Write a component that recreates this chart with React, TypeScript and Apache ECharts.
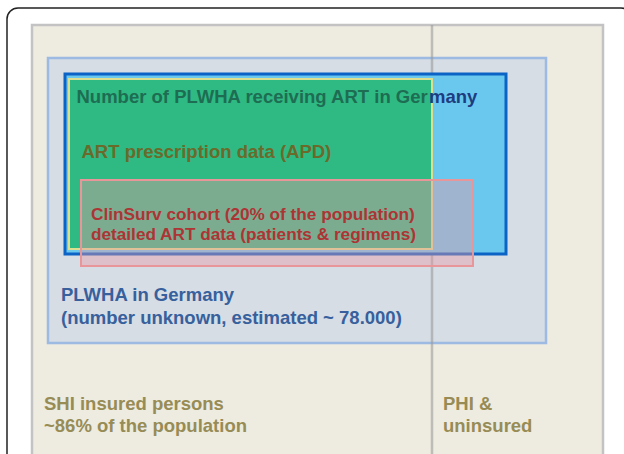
import React, { useEffect, useRef } from "react";
import * as echarts from "echarts";

// Diagram canvas units (x: 0..624, y: 0..454, y grows downward)
const BOX_NAMES = ["Frame", "SHI insured persons", "PLWHA in Germany", "PLWHA receiving ART", "ART prescription data", "ClinSurv cohort"];
const BOX_X0 = [7, 32, 48, 65, 69, 81];
const BOX_Y0 = [8, 25, 58, 74, 79, 180];
const BOX_X1 = [632, 603, 546, 506, 432, 473];
const BOX_Y1 = [490, 480, 343, 254, 249, 266];

const DIVIDER_X = [432, 432];
const DIVIDER_Y = [25, 480];

const TEXT_LINES = [
  "Number of PLWHA receiving ART in Germany",
  "ART prescription data (APD)",
  "ClinSurv cohort (20% of the population)",
  "detailed ART data (patients & regimens)",
  "PLWHA in Germany",
  "(number unknown, estimated ~ 78.000)",
  "SHI insured persons",
  "~86% of the population",
  "PHI &",
  "uninsured",
];
const TEXT_X = [76.5, 81.5, 91, 91, 61, 61, 44, 44, 443, 443];
const TEXT_Y = [96, 151, 214, 234, 294.5, 317.5, 403, 425, 403, 425];
// split point of the first label where it leaves the green (APD) box
const SPLIT_AT = [36];

const FONT = '"Liberation Sans", Arial, Helvetica, sans-serif';

const BOX_STYLE = [
  { fill: "none", stroke: "#222222", lineWidth: 1.5, r: 11 },
  { fill: "#eeebe1", stroke: "#c3c3c3", lineWidth: 2.5, r: 0 },
  { fill: "#d6dde5", stroke: "#9dbbe2", lineWidth: 2.5, r: 0 },
  { fill: "#6ac8ef", stroke: "#0b63c5", lineWidth: 3, r: 0 },
  { fill: "#2fba84", stroke: "#dcdf8f", lineWidth: 2, r: 0 },
  { fill: "rgba(232,152,162,0.42)", stroke: "#e8969a", lineWidth: 2, r: 0 },
];

const TEXT_STYLE = [
  { fill: "#1e6d52", size: 18.5 },
  { fill: "#6b6a2b", size: 18.5 },
  { fill: "#ad3434", size: 17.2 },
  { fill: "#ad3434", size: 17.2 },
  { fill: "#37609c", size: 18.5 },
  { fill: "#37609c", size: 18.5 },
  { fill: "#978c55", size: 18.5 },
  { fill: "#978c55", size: 18.5 },
  { fill: "#978c55", size: 18.5 },
  { fill: "#978c55", size: 18.5 },
];

function boxSeries(idx: number[]) {
  return {
    type: "custom",
    silent: true,
    clip: false,
    data: idx.map((i) => [BOX_X0[i], BOX_Y0[i], BOX_X1[i], BOX_Y1[i], i]),
    renderItem: (params: any, api: any) => {
      const i = api.value(4);
      const s = BOX_STYLE[i];
      const p0 = api.coord([api.value(0), api.value(1)]);
      const p1 = api.coord([api.value(2), api.value(3)]);
      return {
        type: "rect",
        name: BOX_NAMES[i],
        shape: { x: p0[0], y: p0[1], width: p1[0] - p0[0], height: p1[1] - p0[1], r: s.r },
        style: { fill: s.fill, stroke: s.stroke, lineWidth: s.lineWidth },
      };
    },
  };
}

function dividerSeries() {
  return {
    type: "custom",
    silent: true,
    clip: false,
    data: [[DIVIDER_X[0], DIVIDER_Y[0], DIVIDER_X[1], DIVIDER_Y[1]]],
    renderItem: (params: any, api: any) => {
      const p0 = api.coord([api.value(0), api.value(1)]);
      const p1 = api.coord([api.value(2), api.value(3)]);
      return {
        type: "line",
        shape: { x1: p0[0], y1: p0[1], x2: p1[0], y2: p1[1] },
        style: { stroke: "rgba(150,150,150,0.55)", lineWidth: 2.5 },
      };
    },
  };
}

function textSeries(idx: number[]) {
  return {
    type: "custom",
    silent: true,
    clip: false,
    data: idx.map((i) => [TEXT_X[i], TEXT_Y[i], i]),
    renderItem: (params: any, api: any) => {
      const i = api.value(2);
      const s = TEXT_STYLE[i];
      const p = api.coord([api.value(0), api.value(1)]);
      const base: any = {
        x: p[0],
        y: p[1],
        fill: s.fill,
        fontSize: s.size,
        fontWeight: "bold",
        fontFamily: FONT,
        verticalAlign: "middle",
        align: "left",
      };
      if (i === 0) {
        const t = TEXT_LINES[0];
        base.text = "{g|" + t.slice(0, SPLIT_AT[0]) + "}{b|" + t.slice(SPLIT_AT[0]) + "}";
        base.rich = {
          g: { fill: "#1e6d52", fontSize: s.size, fontWeight: "bold", fontFamily: FONT },
          b: { fill: "#1e3c80", fontSize: s.size, fontWeight: "bold", fontFamily: FONT },
        };
      } else {
        base.text = TEXT_LINES[i];
      }
      return { type: "text", style: base };
    },
  };
}

export default function App() {
  const ref = useRef<HTMLDivElement>(null);
  useEffect(() => {
    if (!ref.current) return;
    const chart = echarts.init(ref.current, null, { renderer: "svg" });
    chart.setOption({
      animation: false,
      backgroundColor: "#ffffff",
      grid: { left: 0, right: 0, top: 0, bottom: 0, containLabel: false },
      xAxis: { type: "value", min: 0, max: 624, show: false },
      yAxis: { type: "value", min: 0, max: 454, inverse: true, show: false },
      tooltip: { show: false },
      series: [
        boxSeries([0, 1, 2]),
        dividerSeries(),
        boxSeries([3]),
        boxSeries([4]),
        textSeries([0, 1]),
        boxSeries([5]),
        textSeries([2, 3, 4, 5, 6, 7, 8, 9]),
      ],
    });
    return () => chart.dispose();
  }, []);
  return (
    <div style={{ position: "fixed", left: 0, top: 0, width: 624, height: 454, overflow: "hidden" }}>
      <div ref={ref} style={{ width: 624, height: 454 }} />
    </div>
  );
}
